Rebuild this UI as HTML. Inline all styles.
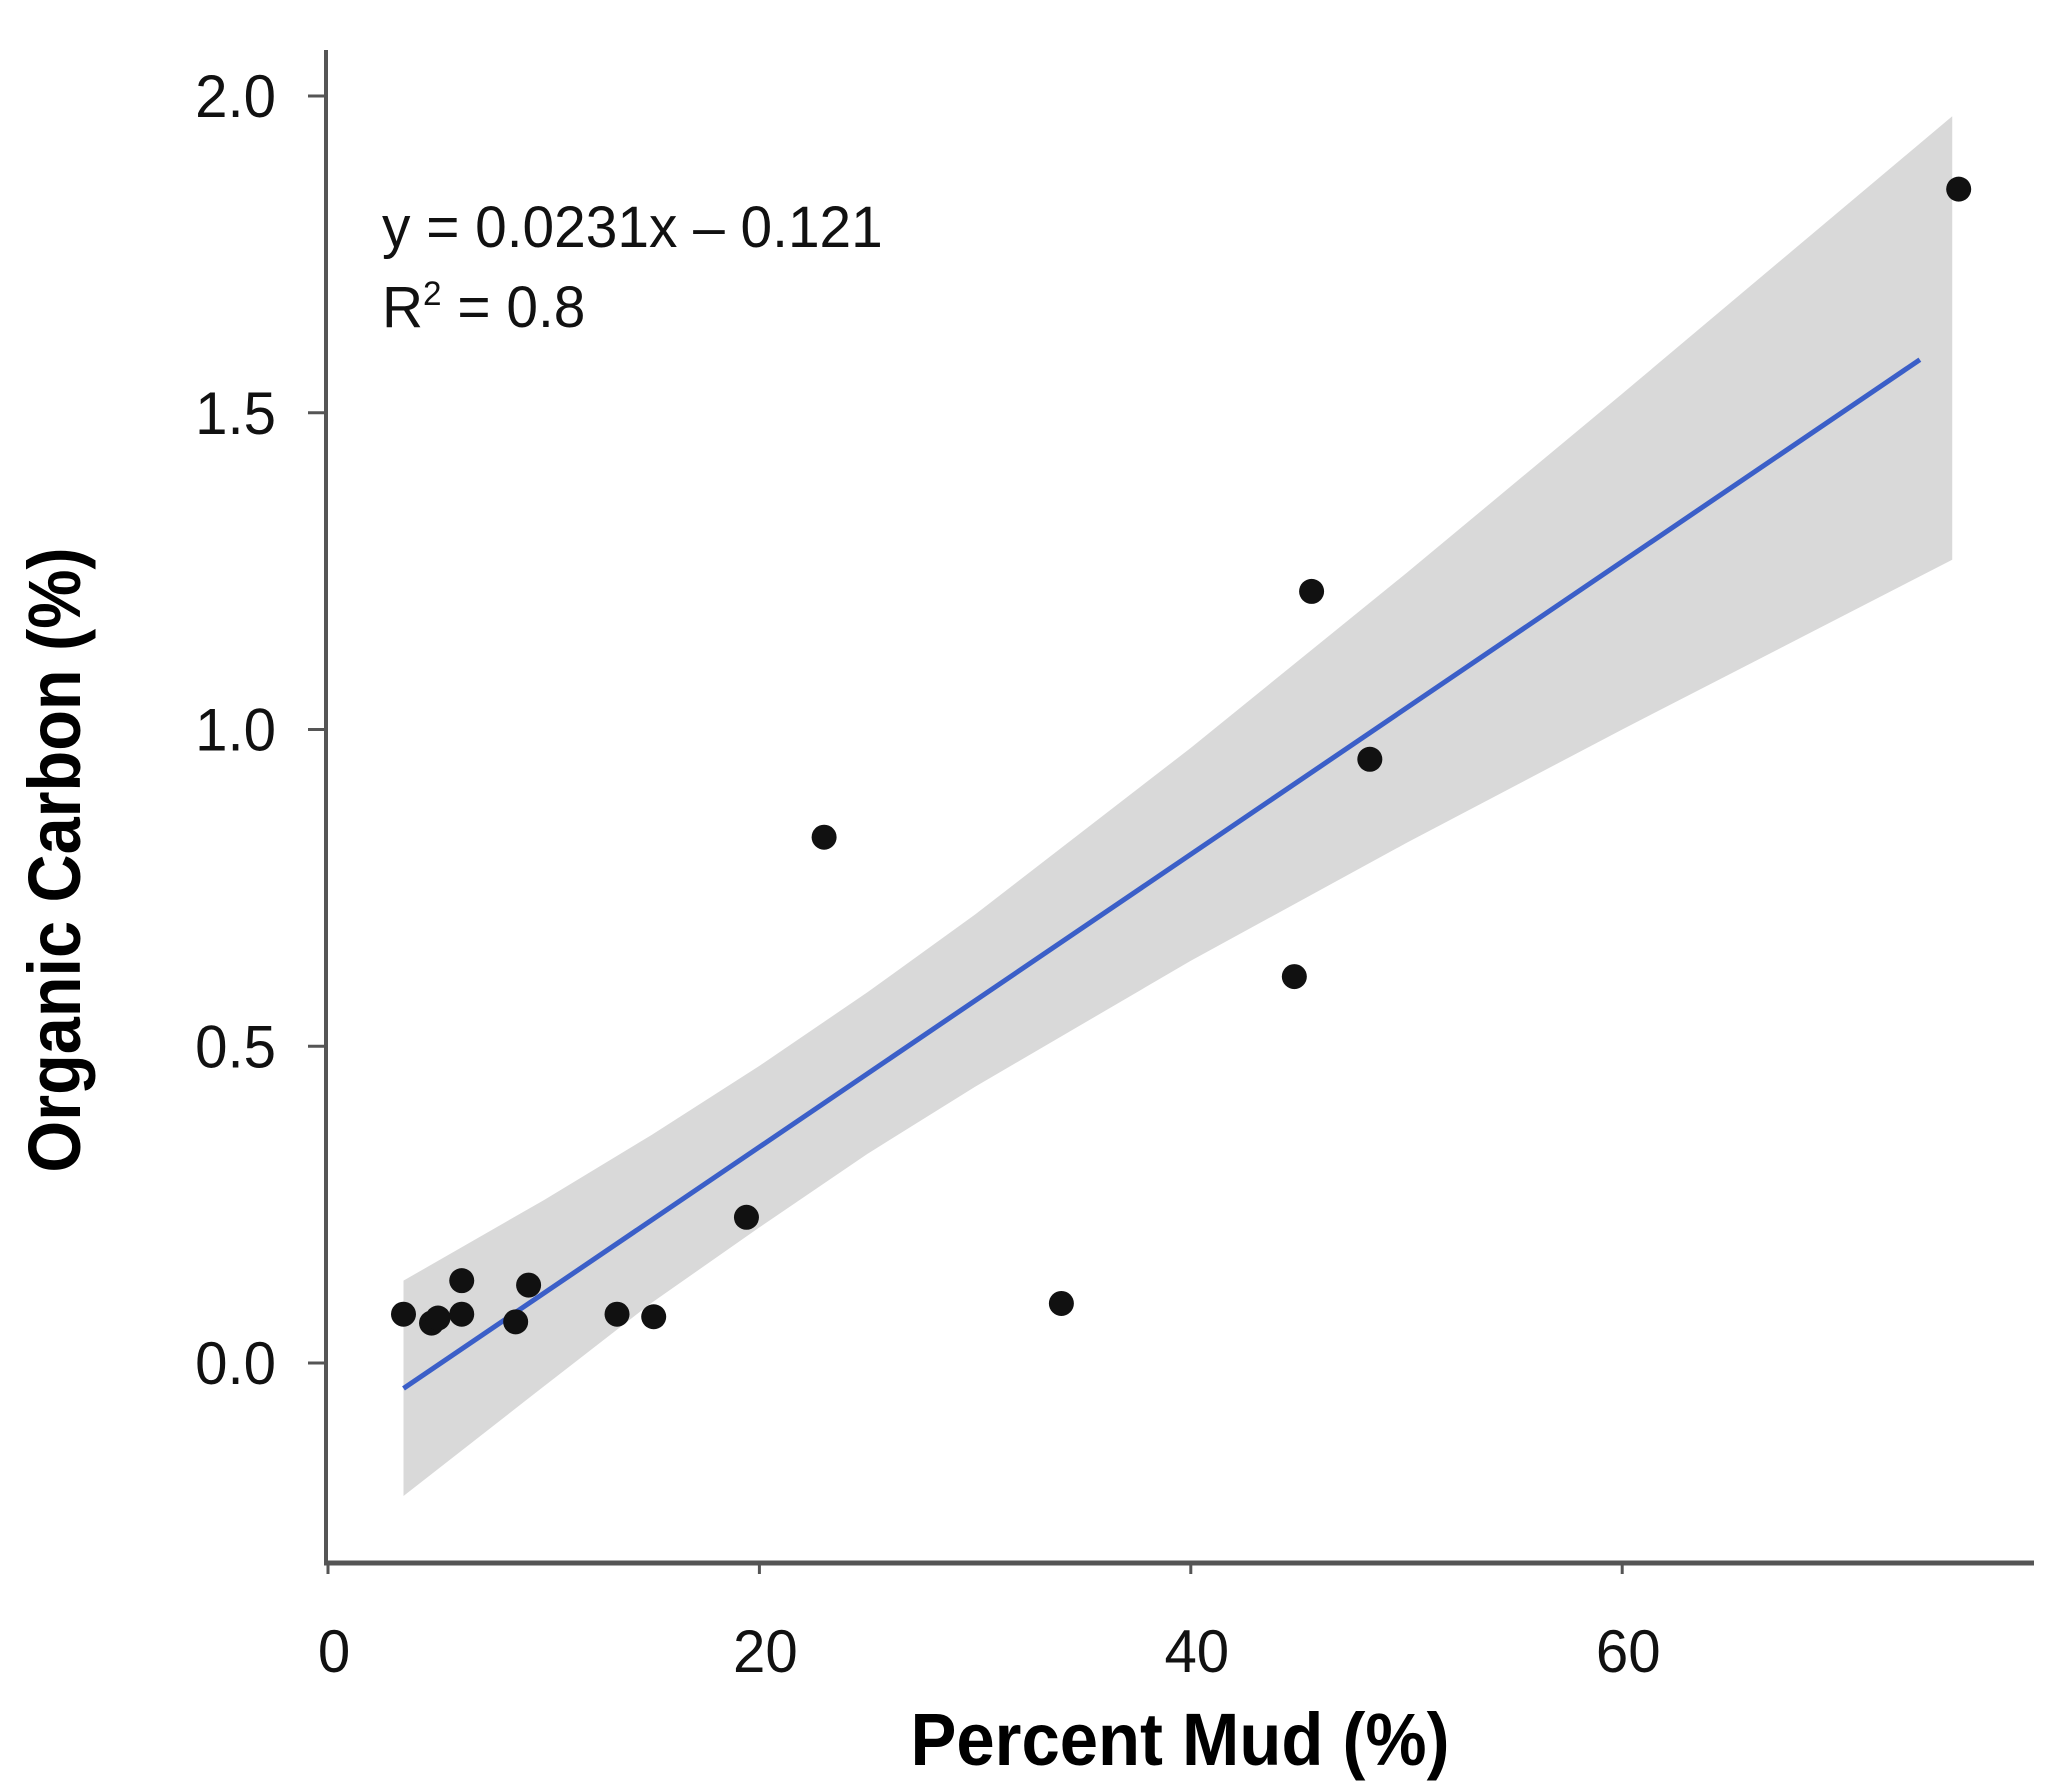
<!DOCTYPE html>
<html><head><meta charset="utf-8">
<style>
html,body{margin:0;padding:0;background:#fff;}
svg{display:block;}
text{font-family:"Liberation Sans",sans-serif;}
</style></head>
<body>
<svg id="chart" width="2067" height="1783" viewBox="0 0 2067 1783" xmlns="http://www.w3.org/2000/svg">
<g id="band"></g>
<g id="line"></g>
<g id="points"></g>
<g id="axes"></g>
<text x="0" y="0" font-size="58" fill="#111" transform="translate(382,247) scale(0.98,1)">y = 0.0231x – 0.121</text>
<text x="0" y="0" font-size="58" fill="#111" transform="translate(382,327) scale(0.98,1)">R<tspan font-size="34" dy="-22">2</tspan><tspan dy="22"> = 0.8</tspan></text>
<text x="0" y="0" font-size="74" font-weight="bold" fill="#000" text-anchor="middle" transform="translate(80,860) rotate(-90) scale(0.9,1)">Organic Carbon (%)</text>
<text x="0" y="0" font-size="74" font-weight="bold" fill="#000" text-anchor="middle" transform="translate(1180,1765) scale(0.93,1)">Percent Mud (%)</text>
</svg>
<script>
const mudX = [3.5, 4.8, 5.1, 6.2, 6.2, 8.7, 9.3, 13.4, 15.1, 19.4, 23.0, 34.0, 44.8, 45.6, 48.3, 75.6];
const carbonY = [0.077, 0.063, 0.071, 0.13, 0.077, 0.065, 0.123, 0.077, 0.073, 0.23, 0.83, 0.094, 0.61, 1.218, 0.953, 1.853];
const bandX = [3.5, 10, 15, 20, 25, 30, 40, 50, 60, 75.3];
const bandUpper = [0.13, 0.257, 0.36, 0.469, 0.585, 0.708, 0.971, 1.247, 1.53, 1.968];
const bandLower = [-0.21, -0.037, 0.095, 0.214, 0.33, 0.436, 0.635, 0.821, 1.0, 1.268];
const slope = 0.0231, intercept = -0.121;
const fitRange = [3.5, 73.8];
const xTicks = [0, 20, 40, 60];
const yTicks = [0.0, 0.5, 1.0, 1.5, 2.0];
const yTickLabels = ["0.0", "0.5", "1.0", "1.5", "2.0"];

const NS = "http://www.w3.org/2000/svg";
const X0 = 328, XPER = 21.57;
const Y0 = 1363, YPER = 633.5;
function sx(v){ return X0 + v * XPER; }
function sy(v){ return Y0 - v * YPER; }
function mk(tag, attrs, parent){
  const e = document.createElementNS(NS, tag);
  for (const k in attrs) e.setAttribute(k, attrs[k]);
  parent.appendChild(e);
  return e;
}

const bandG = document.getElementById('band');
let pts = bandX.map((x,i)=>sx(x)+','+sy(bandUpper[i]));
for (let i = bandX.length-1; i >= 0; i--) pts.push(sx(bandX[i])+','+sy(bandLower[i]));
const poly = mk('polygon', {points: pts.join(' '), fill:'#d9d9d9'}, bandG);



const lineG = document.getElementById('line');
const ln = mk('line', {x1:sx(fitRange[0]), y1:sy(slope*fitRange[0]+intercept), x2:sx(fitRange[1]), y2:sy(slope*fitRange[1]+intercept), stroke:'#3b5fc8', 'stroke-width':5}, lineG);



const ptG = document.getElementById('points');
mudX.forEach((x,i)=>{
  const c = mk('circle', {cx:sx(x), cy:sy(carbonY[i]), r:12.5, fill:'#111'}, ptG);
  
  
});

const ax = document.getElementById('axes');
const ya = mk('line', {x1:326, y1:50, x2:326, y2:1565, stroke:'#555', 'stroke-width':4}, ax);


const xa = mk('line', {x1:324, y1:1563, x2:2034, y2:1563, stroke:'#555', 'stroke-width':5}, ax);



yTicks.forEach((v,i)=>{
  const t = mk('line', {x1:308, y1:sy(v), x2:326, y2:sy(v), stroke:'#555', 'stroke-width':3}, ax);
  
  
  const lb = mk('text', {x:0, y:0, 'font-size':60, fill:'#111', 'text-anchor':'end', transform:'translate(276,'+(sy(v)+21)+') scale(0.97,1)'}, ax);
  lb.textContent = yTickLabels[i];
  
  
});
xTicks.forEach(v=>{
  const t = mk('line', {x1:sx(v), y1:1563, x2:sx(v), y2:1574, stroke:'#555', 'stroke-width':3}, ax);
  
  
  const lb = mk('text', {x:0, y:0, 'font-size':60, fill:'#111', 'text-anchor':'middle', transform:'translate('+(sx(v)+6)+',1672) scale(0.97,1)'}, ax);
  lb.textContent = String(v);
  
  
});
</script>
</body></html>
